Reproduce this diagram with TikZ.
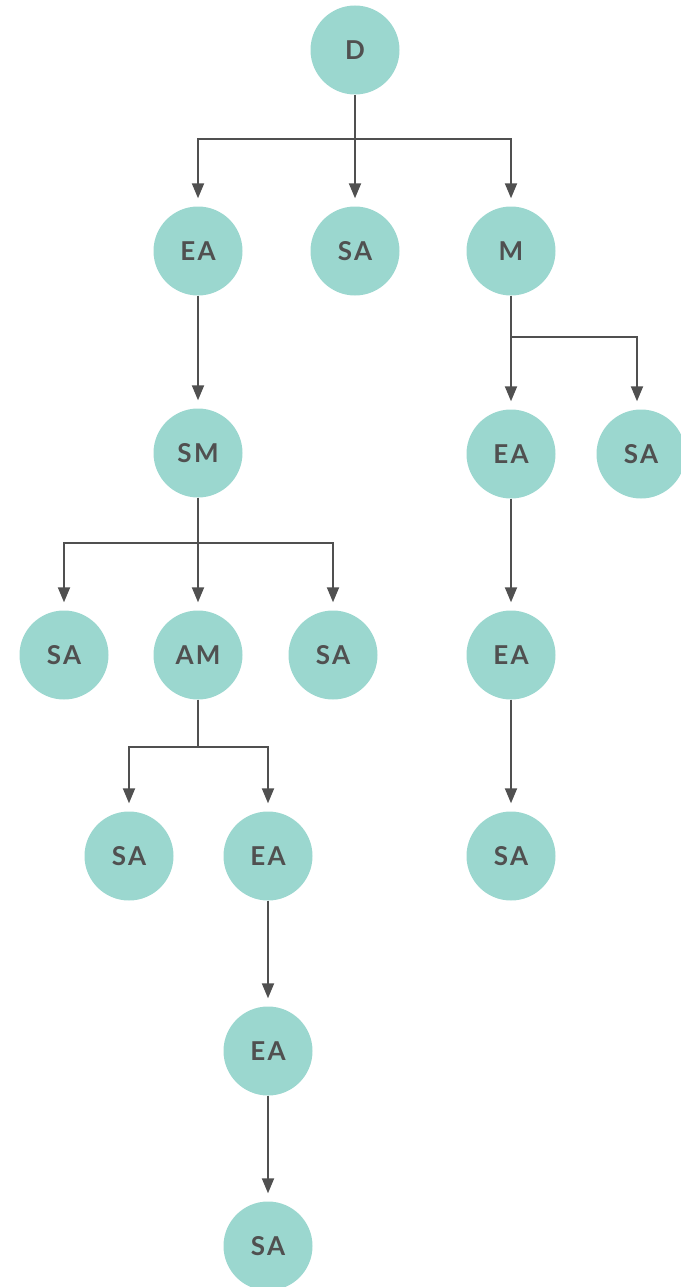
\documentclass[tikz,border=0pt]{standalone}
\usepackage{fontspec}
\setmainfont[LetterSpace=9]{Lato}
\usetikzlibrary{arrows.meta}
\definecolor{teal}{HTML}{9BD7CF}
\definecolor{ink}{HTML}{505050}
\begin{document}
\begin{tikzpicture}[x=1pt,y=-1pt,
  nd/.style={circle,fill=teal,draw=none,minimum size=89pt,inner sep=0pt,
    font=\fontsize{26}{26}\selectfont\bfseries,text=ink},
  arr/.style={draw=ink,line width=1.9pt,-{Triangle[length=15pt,width=12pt]},shorten >=8pt},
  ln/.style={draw=ink,line width=1.9pt}]
\useasboundingbox (0,0) rectangle (680,1287);
% nodes
\node[nd] (D)   at (355,50)   {D};
\node[nd] (EA1) at (198,251)  {EA};
\node[nd] (SA1) at (355,251)  {SA};
\node[nd] (M)   at (511,251)  {M};
\node[nd] (SM)  at (198,453)  {SM};
\node[nd] (EA2) at (511,454)  {EA};
\node[nd] (SA2) at (641,454)  {SA};
\node[nd] (SA3) at (64,655)   {SA};
\node[nd] (AM)  at (198,655)  {AM};
\node[nd] (SA4) at (333,655)  {SA};
\node[nd] (EA3) at (511,655)  {EA};
\node[nd] (SA5) at (129,856)  {SA};
\node[nd] (EA4) at (268,856)  {EA};
\node[nd] (SA6) at (511,856)  {SA};
\node[nd] (EA5) at (268,1051) {EA};
\node[nd] (SA7) at (268,1246) {SA};
% buses
\coordinate (b1) at (355,139);
\coordinate (b2) at (511,337);
\coordinate (b3) at (198,543);
\coordinate (b4) at (198,747);
% connectors
\draw[ln] (D.south) -- (b1);
\draw[arr] (b1) -| (EA1.north);
\draw[arr] (b1) -- (SA1.north);
\draw[arr] (b1) -| (M.north);
\draw[arr] (EA1.south) -- (SM.north);
\draw[ln] (M.south) -- (b2);
\draw[arr] (b2) -- (EA2.north);
\draw[arr] (b2) -| ([xshift=-4pt]SA2.north);
\draw[ln] (SM.south) -- (b3);
\draw[arr] (b3) -| (SA3.north);
\draw[arr] (b3) -- (AM.north);
\draw[arr] (b3) -| (SA4.north);
\draw[ln] (AM.south) -- (b4);
\draw[arr] (b4) -| (SA5.north);
\draw[arr] (b4) -| (EA4.north);
\draw[arr] (EA2.south) -- (EA3.north);
\draw[arr] (EA3.south) -- (SA6.north);
\draw[arr] (EA4.south) -- (EA5.north);
\draw[arr] (EA5.south) -- (SA7.north);
\end{tikzpicture}
\end{document}
